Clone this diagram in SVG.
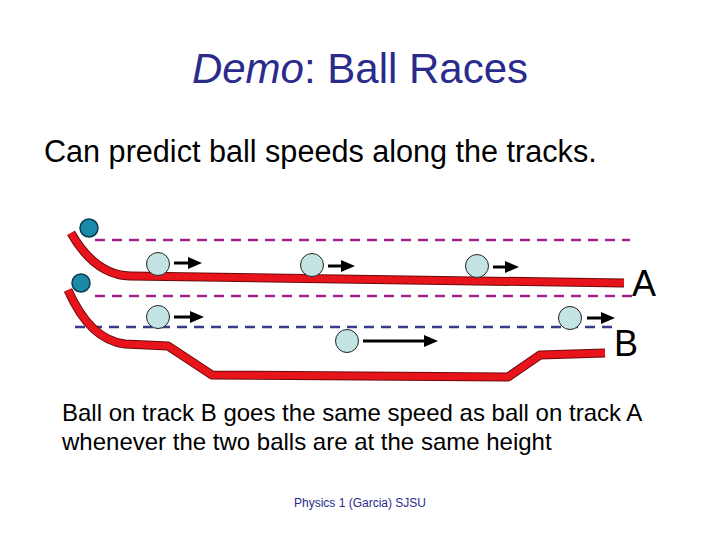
<svg xmlns="http://www.w3.org/2000/svg" width="720" height="540" viewBox="0 0 720 540">
<defs>
<style>
.t{font-family:"Liberation Sans",Arial,sans-serif;}
.track{fill:none;stroke:#e8141c;stroke-width:7;stroke-linejoin:round;}
.trackE{fill:none;stroke:#6b0a0a;stroke-width:9;stroke-linejoin:round;}
.ball{fill:#c4e4e4;stroke:#222;stroke-width:1;}
.arr{stroke:#000;stroke-width:3;marker-end:url(#ah);}
.dm{stroke:#a0208c;stroke-width:2.5;stroke-dasharray:10,7;}
.db{stroke:#3a3a8c;stroke-width:2.5;stroke-dasharray:10,7;}
.top{fill:#1a8aa8;stroke:#0a3a55;stroke-width:1.5;}
</style>
<marker id="ah" markerUnits="userSpaceOnUse" markerWidth="14" markerHeight="14" refX="2" refY="7" orient="auto"><path d="M0,1L14,7L0,13Z" fill="#000"/></marker>
</defs>
<rect width="720" height="540" fill="#fff"/>
<text class="t" x="360" y="83" font-size="42" text-anchor="middle" fill="#2b2b8c"><tspan font-style="italic">Demo</tspan>: Ball Races</text>
<text class="t" x="44" y="162" font-size="30.6">Can predict ball speeds along the tracks.</text>
<g id="lines">
<line class="dm" x1="95" y1="240" x2="630" y2="240"/>
<line class="dm" x1="95" y1="296" x2="635" y2="296"/>
<line class="db" x1="75" y1="327" x2="615" y2="327"/>
</g>
<g id="trackA">
<path class="trackE" d="M71,233 Q95,275 130,276 L624,283"/>
<path class="track" d="M71,233 Q95,275 130,276 L624,283"/>
<circle class="top" cx="89" cy="228" r="9"/>
<text class="t" x="632" y="296" font-size="36">A</text>
</g>
<g id="trackB">
<path class="trackE" d="M68,290 Q90,340 125,344 L168,346 L212,375 L508,377 L540,355 L605,353"/>
<path class="track" d="M68,290 Q90,340 125,344 L168,346 L212,375 L508,377 L540,355 L605,353"/>
<circle class="top" cx="81" cy="283" r="9"/>
<text class="t" x="614" y="356" font-size="36">B</text>
</g>
<g id="balls">
<circle class="ball" cx="158" cy="264" r="11.5"/>
<circle class="ball" cx="312" cy="265" r="11.5"/>
<circle class="ball" cx="477" cy="266" r="11.5"/>
<circle class="ball" cx="158" cy="317" r="11.5"/>
<circle class="ball" cx="347" cy="341" r="11.5"/>
<circle class="ball" cx="570" cy="318" r="11.5"/>
</g>
<g id="connectors">
<line class="arr" x1="174" y1="263" x2="190" y2="263"/>
<line class="arr" x1="328" y1="266" x2="343" y2="266"/>
<line class="arr" x1="493" y1="267" x2="507" y2="267"/>
<line class="arr" x1="174" y1="317" x2="192" y2="317"/>
<line class="arr" x1="363" y1="341" x2="426" y2="341"/>
<line class="arr" x1="587" y1="318" x2="603" y2="318"/>
</g>
<text class="t" x="62" y="421" font-size="24">Ball on track B goes the same speed as ball on track A</text>
<text class="t" x="62" y="450" font-size="24">whenever the two balls are at the same height</text>
<text class="t" x="360" y="507" font-size="12" text-anchor="middle" fill="#2b2b8c">Physics 1 (Garcia) SJSU</text>
</svg>
